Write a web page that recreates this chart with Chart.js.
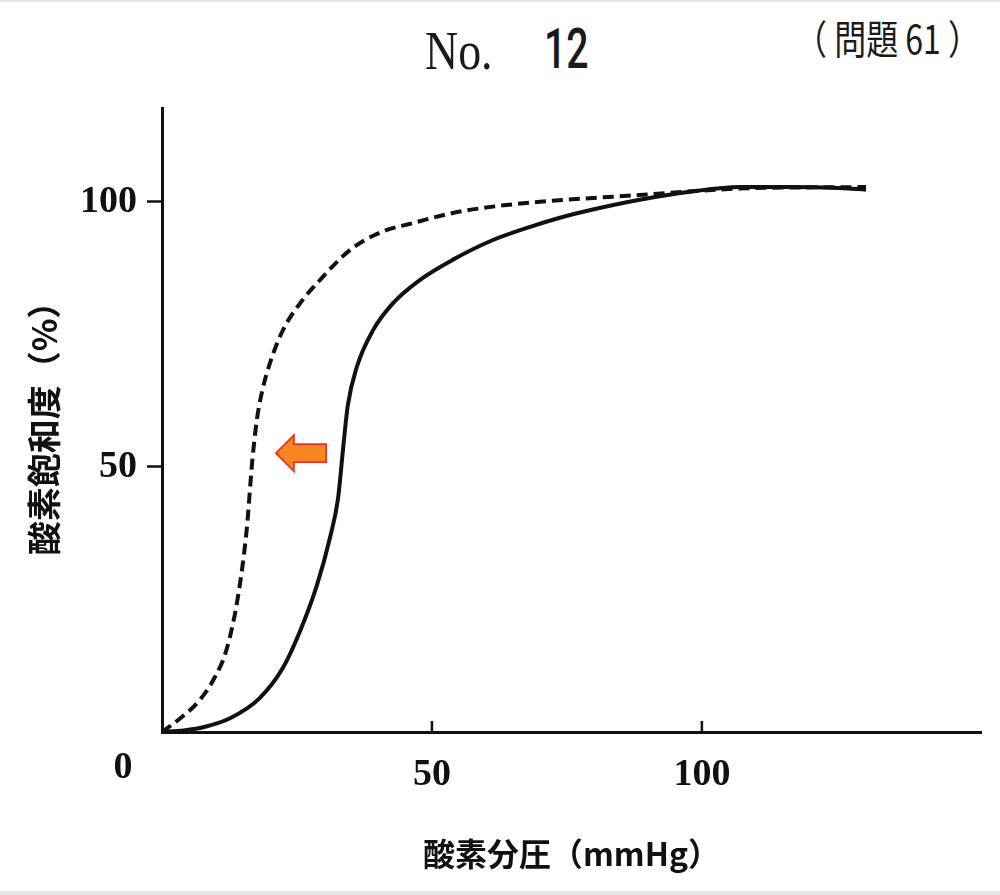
<!DOCTYPE html>
<html lang="ja">
<head>
<meta charset="utf-8">
<title>酸素解離曲線</title>
<script src="https://cdn.jsdelivr.net/npm/chart.js@4.4.1/dist/chart.umd.min.js"></script>
<style>
    html, body { margin: 0; padding: 0; background: #fff; }
    #page { position: relative; width: 1000px; height: 895px; overflow: hidden; }
    #page::before { content: ''; position: absolute; left: 0; right: 0; top: 0; height: 2px; background: #e6e6e6; }
    #page::after { content: ''; position: absolute; left: 0; right: 0; bottom: 0; height: 4px; background: #e6e6e6; }
    .hdr { position: absolute; line-height: 1; color: #1a1a1a; white-space: nowrap; transform-origin: left top; }
    #no { left: 425px; top: 20px; font: 54px 'Liberation Serif', serif; transform: scaleX(0.85); }
    #num { left: 544px; top: 16px; font: 500 56px Roboto, sans-serif; transform: scaleX(0.7); }
    #mondai { left: 795px; top: 8px; font: 40px 'Noto Sans CJK JP', sans-serif; transform: scaleX(0.8); }
    #chart-box { position: absolute; left: 0; top: 0; width: 1000px; height: 895px; }
</style>
</head>
<body>
<div id="page">
    <div class="hdr" id="no">No.</div>
    <div class="hdr" id="num">12</div>
    <div class="hdr" id="mondai">（ 問題 61 ）</div>
    <div id="chart-box"><canvas id="curveChart"></canvas></div>
</div>

<script>
// 実線（通常）
const solidX = [0, 4, 8, 12.6, 18.1, 22.4, 25.6, 28.7, 31.1, 32.6, 33.5, 34.4, 36.1, 39.1, 42.8, 47.8, 53.9, 61.3, 67.6, 73.7, 80, 88.5, 97.8, 107, 116.3, 125.6, 130.4];
const solidY = [0, 0.3, 1.0, 2.6, 6.4, 12.1, 19.1, 27.7, 36.6, 44, 53, 61.5, 68.9, 75.8, 80.9, 85.3, 89.1, 92.8, 95.1, 97.0, 98.6, 100.4, 101.9, 102.8, 102.8, 102.6, 102.3];
// 破線（左方移動）
const dashedX = [0, 3.9, 6.8, 9.5, 12.0, 14.1, 15.7, 16.7, 17.6, 18.6, 20.0, 22.4, 25.6, 29.3, 34.8, 40.4, 46.5, 53.9, 61.3, 70.0, 88.5, 107, 130.4];
const dashedY = [0, 3.0, 5.8, 9.8, 15.7, 25.7, 38.3, 50.9, 59.1, 64.5, 69.6, 75.8, 80.9, 85.3, 90.9, 94.2, 96.0, 97.9, 99.1, 100, 101.3, 102.5, 102.8];

const xTickValues = [50, 100];
const yTickValues = [50, 100];
const originLabel = '0';

// 矢印（x: 先端〜後端, y: 高さ）
const arrowX = [21.1, 30.4];
const arrowY = 52.6;

const toPoints = (xs, ys) => xs.map((x, i) => ({ x: x, y: ys[i] }));

const tickFont = { family: "'Liberation Serif', serif", size: 38, weight: 'bold' };
const titleFont = { family: "'Noto Sans CJK JP', sans-serif", size: 34, weight: 'bold' };

// x軸の内向き目盛りと原点の「0」
const axisExtras = {
    id: 'axisExtras',
    afterDraw(chart) {
        const { ctx, scales: { x, y } } = chart;
        const bottom = y.getPixelForValue(y.min);
        ctx.save();
        ctx.strokeStyle = '#111';
        ctx.lineWidth = 2.5;
        xTickValues.forEach(v => {
            const px = x.getPixelForValue(v);
            ctx.beginPath();
            ctx.moveTo(px, bottom);
            ctx.lineTo(px, bottom - 11);
            ctx.stroke();
        });
        ctx.fillStyle = '#111';
        ctx.font = 'bold 38px "Liberation Serif", serif';
        ctx.textAlign = 'center';
        ctx.textBaseline = 'middle';
        ctx.fillText(originLabel, x.getPixelForValue(0) - 39, bottom + 36);
        ctx.restore();
    }
};

// オレンジの矢印
const shiftArrow = {
    id: 'shiftArrow',
    afterDatasetsDraw(chart) {
        const { ctx, scales: { x, y } } = chart;
        const tip = x.getPixelForValue(arrowX[0]);
        const tail = x.getPixelForValue(arrowX[1]);
        const cy = y.getPixelForValue(arrowY);
        const head = 18, headH = 18, shaftH = 9;
        ctx.save();
        ctx.beginPath();
        ctx.moveTo(tip, cy);
        ctx.lineTo(tip + head, cy - headH);
        ctx.lineTo(tip + head, cy - shaftH);
        ctx.lineTo(tail, cy - shaftH);
        ctx.lineTo(tail, cy + shaftH);
        ctx.lineTo(tip + head, cy + shaftH);
        ctx.lineTo(tip + head, cy + headH);
        ctx.closePath();
        ctx.fillStyle = '#f7861e';
        ctx.fill();
        ctx.strokeStyle = '#e8342a';
        ctx.lineWidth = 1.8;
        ctx.stroke();
        ctx.restore();
    }
};

Chart.defaults.color = '#111';

new Chart(document.getElementById('curveChart'), {
    type: 'line',
    data: {
        datasets: [
            {
                label: '通常',
                data: toPoints(solidX, solidY),
                borderColor: '#111',
                borderWidth: 4,
                pointRadius: 0,
                cubicInterpolationMode: 'monotone',
                fill: false
            },
            {
                label: '左方移動',
                data: toPoints(dashedX, dashedY),
                borderColor: '#111',
                borderWidth: 4,
                borderDash: [11, 6],
                pointRadius: 0,
                cubicInterpolationMode: 'monotone',
                fill: false
            }
        ]
    },
    options: {
        responsive: true,
        maintainAspectRatio: false,
        animation: false,
        layout: { padding: { left: 0, right: 19, top: 108, bottom: 0 } },
        plugins: {
            legend: { display: false },
            tooltip: { enabled: false }
        },
        scales: {
            x: {
                type: 'linear',
                min: 0,
                max: 151.7,
                afterBuildTicks: s => { s.ticks = xTickValues.map(v => ({ value: v })); },
                afterFit: s => { s.height = 163; },
                grid: { display: false },
                border: { display: true, color: '#111', width: 3 },
                ticks: { font: tickFont, padding: 12, maxRotation: 0 },
                title: {
                    display: true,
                    text: '酸素分圧（mmHg）',
                    font: { ...titleFont, size: 32 },
                    padding: { top: 0, bottom: 22 }
                }
            },
            y: {
                type: 'linear',
                min: 0,
                max: 117.7,
                afterBuildTicks: s => { s.ticks = yTickValues.map(v => ({ value: v })); },
                afterFit: s => { s.width = 162; },
                grid: { drawOnChartArea: false, drawTicks: true, tickLength: 15, tickWidth: 2.5, tickColor: '#111' },
                border: { display: true, color: '#111', width: 3 },
                ticks: { font: tickFont, padding: 10 },
                title: {
                    display: true,
                    text: '酸素飽和度（%）',
                    font: titleFont,
                    padding: { top: 24, bottom: 0 }
                }
            }
        }
    },
    plugins: [axisExtras, shiftArrow]
});
</script>
</body>
</html>
